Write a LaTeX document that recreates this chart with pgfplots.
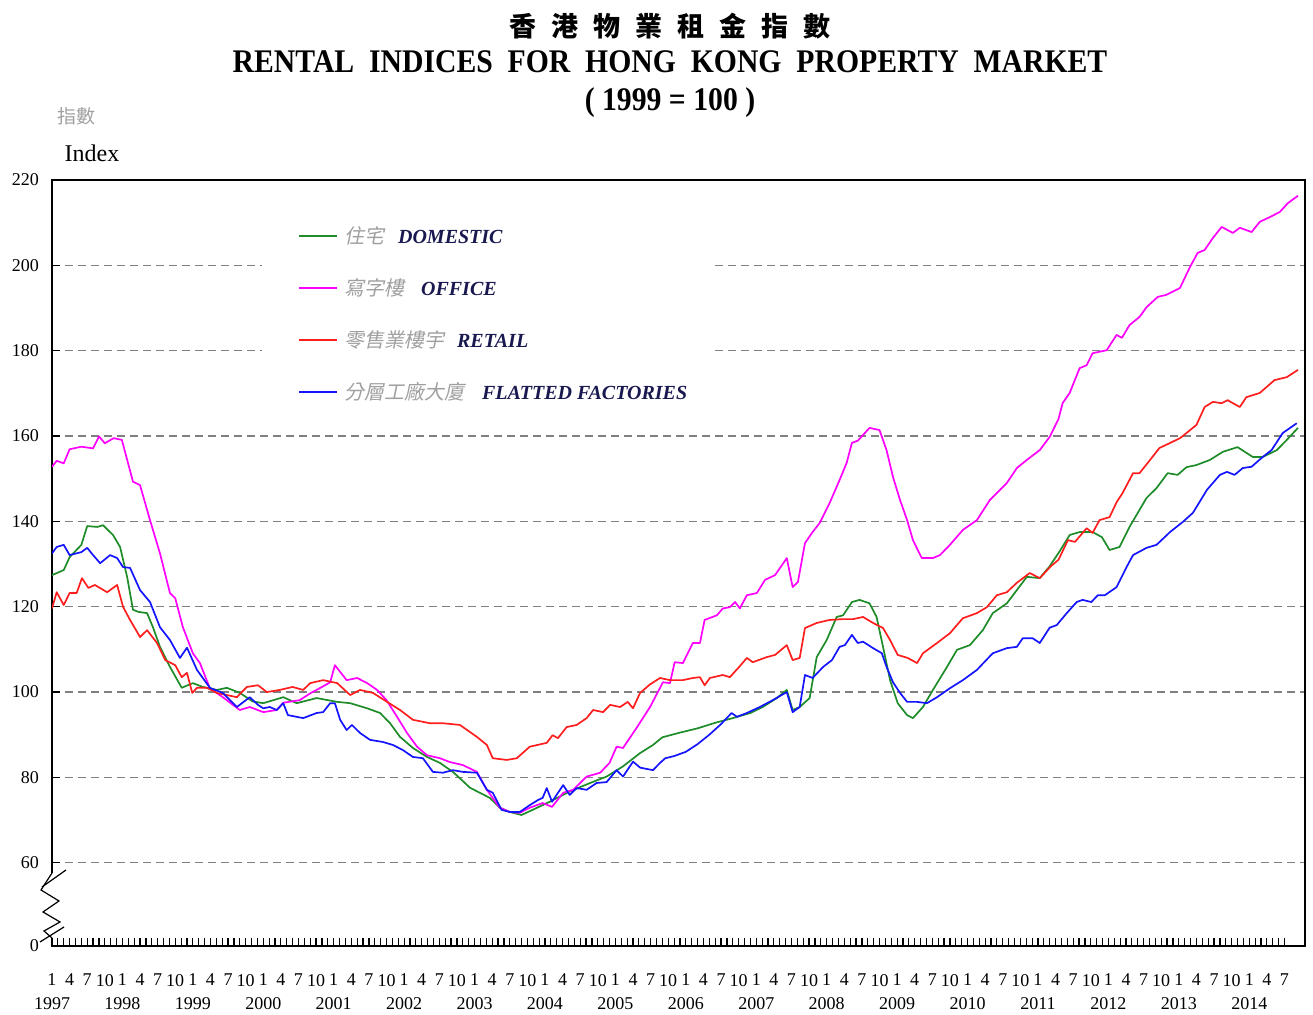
\documentclass[border=0pt]{standalone}
\usepackage{pgfplots}
\pgfplotsset{compat=1.18}
\usepackage{pgfplotstable}
\usepackage{fontspec}
\setmainfont{Liberation Serif}
\newfontfamily\titlefont{Liberation Serif}[FakeStretch=0.9]
\newfontfamily\cjk{Noto Sans CJK TC}
\newfontfamily\cjkit{Noto Sans CJK TC}[FakeSlant=0.2]
\definecolor{dgreen}{RGB}{30,140,40}
\definecolor{mag}{RGB}{255,0,255}
\definecolor{rred}{RGB}{255,30,30}
\definecolor{bblue}{RGB}{20,20,255}
\definecolor{navy}{RGB}{25,25,80}
\definecolor{cjkgray}{RGB}{160,160,160}

\pgfplotstableread{
m v
0 152.8
0.8 154.2
2 153.6
3 156.9
5 157.5
7 157.1
8 159.9
9 158.3
10.5 159.5
11.9 159.1
13.8 149.3
15 148.5
16.7 140.3
18.4 132.5
20.1 123.2
21 122
22.3 115.2
24 109.1
25.2 106.8
26.9 100.9
29.1 98.8
32 95.8
33.7 96.5
36 95.3
38.3 95.8
39.4 97.5
42.2 98.1
44 99.7
46 101.2
47.4 102.3
48.2 106.3
50.2 102.8
52 103.3
53.7 102.1
55.4 100.5
57 98.1
58.8 94.2
60.5 90.4
62.2 87.2
63.9 85.2
66.1 84.5
67.8 83.6
70 82.9
72.4 81.3
74.1 77.1
76.3 72.9
78 71.9
79.7 71.7
81.4 72.9
83.6 74
85.2 73.1
87.1 76.4
88.8 77.1
91.1 80.2
93.4 81.1
95 83.4
96.2 87.2
97.3 86.9
99.7 91.8
101.9 96.5
104.1 102.3
105.3 102.1
106.1 107
107.5 106.8
109.2 111.5
110.4 111.5
111.2 116.9
113.3 118
114.3 119.6
115.5 119.9
116.4 121.1
117.2 119.6
118.4 122.7
120.1 123.2
121.5 126.3
123.2 127.4
125.2 131.4
126.2 124.6
127.1 125.8
128.3 134.9
129.6 137.5
130.8 139.6
132.5 144.3
134.2 149.7
135.4 153.7
136.3 158.4
137.3 158.9
139.3 161.9
141 161.4
142.2 156.7
143.3 150.4
144.5 145
145.7 140.3
146.7 135.6
148.2 131.4
150.1 131.4
151.3 132.1
153 134.5
155.2 138
157.6 140.3
159.8 145
162.7 149
164.4 152.5
166.1 154.4
168.3 156.7
170 159.8
171.5 164
172.2 167.7
173.4 170.1
175.1 175.9
176.3 176.6
177.3 179.4
179.7 180.1
181.4 183.7
182.3 183
183.6 186
185.3 187.9
186.5 190.2
188.4 192.6
189.9 193.1
192.2 194.7
193.9 199.6
195.2 202.9
196.4 203.6
197.8 206.4
199.3 209
201.2 207.6
202.4 208.8
204.4 207.8
205.8 210.2
207.5 211.3
209.2 212.5
210.6 214.6
212.3 216.3
}\office

\pgfplotstableread{
m v
0 127.4
2 128.6
3 131.6
5 134.5
6 138.9
7.7 138.7
8.7 139.1
10.4 136.8
11.6 134
12.8 127
13.8 119.3
14.7 118.8
16.2 118.5
17.2 115.2
18.4 110.6
20.1 105.9
22.1 101
24 102.1
25.7 101.2
28.1 100.5
29.8 101
32 99.8
34.2 97.8
36 97.4
39.4 98.8
41.7 97.4
45.1 98.6
48.6 97.7
50.8 97.4
53.7 96.2
55.9 95.1
57.6 92.7
59.3 89.5
61.5 86.9
63.9 84.8
66.1 83.4
68.3 81.3
69.5 79.8
71.2 77.6
74.6 75.2
76.3 72.9
78 71.9
80 71.2
81.9 72.4
84.8 74.3
88.2 76.7
91.7 78.7
94.5 80.2
97.3 82.6
100.2 85.7
102.4 87.6
104 89.4
107 90.5
110 91.5
113 92.8
116 93.9
119 95.1
121.1 96.5
123.5 98.6
125.2 100.5
126.2 95.8
127.4 96.5
129.1 98.6
130.3 108.2
132 112.2
133.7 117.6
134.8 118
136.3 121.1
137.6 121.6
139.3 120.8
140.5 117.6
141.6 110.6
142.8 102.8
144.1 97.4
145.7 94.6
146.7 93.9
148.4 96.5
150.1 100.5
152.5 105.9
154.2 109.9
156.4 111
158.6 114.5
160.3 118.5
162.7 120.8
164.4 123.9
166.1 127
168.3 126.7
170 129.5
171.7 133
173.4 136.8
175.1 137.5
177.3 137.5
178.9 136.3
180.2 133.3
181.9 134
183.6 138.7
186.5 145.5
188.2 147.8
190.1 151.3
191.8 150.9
193.3 152.7
195 153.2
197.3 154.4
199.5 156.3
202 157.4
204.6 155.1
206.3 155.1
208.7 156.7
210.4 159.1
212.3 161.9
}\domestic

\pgfplotstableread{
m v
0 119.6
0.8 123.4
2 120.4
3 123.2
4.2 123.2
5.1 126.7
6.2 124.4
7.3 125.1
9.4 123.4
11.1 125.1
12.1 120
13.3 116.9
15 112.9
16.2 114.5
17.9 111.5
19.3 107.5
21 106.3
22.1 103.5
23 104.5
23.9 99.8
24.7 101
26.4 101
28.1 99.8
29.8 99.3
31.5 98.8
33.2 101.2
35.1 101.6
36.6 100
38.8 100.5
41 101.2
42.8 100.5
44 102.1
46.2 102.8
48.6 102.1
50.8 99.3
52.5 100.5
54.7 99.8
57.1 97.7
59.3 95.8
61.5 93.5
64.4 92.7
66.6 92.7
69.5 92.3
72.4 89.5
74.1 87.6
75.1 84.5
77.5 84.1
79.2 84.5
81.4 87.2
84.3 88.1
85.3 89.9
86.2 89.2
87.7 91.8
89.4 92.3
91.1 93.9
92.2 95.8
93.9 95.3
95.1 97
96.8 96.5
98.1 97.7
99 96.2
100.2 99.8
101.9 101.8
103.6 103.3
105.3 102.8
107.5 102.8
109.2 103.3
110.4 103.5
111.2 101.6
112.1 103.3
114.3 104
115.5 103.5
116.9 105.6
118.4 108
119.4 107
121.8 108.2
123.2 108.7
125.2 111
126.2 107.5
127.4 108
128.3 115
130.3 116.2
132.5 116.9
134.8 117.1
136.5 117.1
138.2 117.6
139.9 116.2
141.6 115
142.8 112.2
144.1 108.7
145.8 108
147.4 106.8
148.4 109.1
150.8 111.5
153 113.8
155.2 117.3
157.6 118.5
159.3 119.9
161 122.7
162.7 123.4
164.4 125.6
166.6 127.9
168.3 126.7
170.2 129.5
171.5 131
173.1 135.6
174.3 135.2
176.3 138.4
177.3 137.3
178.5 140.3
180.2 141
181.4 144.5
182.4 146.6
184.2 151.3
185.3 151.3
187.1 154.4
188.7 157.2
190.4 158.3
192.2 159.5
193.3 160.7
195 162.6
196.4 166.8
197.8 168
199.3 167.7
200.3 168.4
202.4 166.8
203.5 169.1
205.8 170.1
208.3 173.1
210.4 173.8
212.3 175.5
}\retail

\pgfplotstableread{
m v
0 132.5
0.8 134
2 134.5
3 132.1
5 132.8
6 133.8
7 132.1
8.2 130.2
9.9 132.1
11.1 131.4
12.1 129.3
13.3 129.1
15 123.9
16.7 121.1
18.4 115.2
20.1 112.2
21.8 108
23 110.4
24.7 105.2
26.9 101
29.1 99.8
31.5 96.5
33.7 98.8
35.1 97
36 96.2
37.1 96.5
38.3 95.8
39.4 97.4
40.2 94.6
42.8 93.9
45.1 95.1
46.2 95.3
47.4 97.4
48.2 97.4
49.1 93.5
50.2 91.1
51.1 92.3
52.5 90.4
54.2 88.8
56.4 88.3
58.1 87.6
59.8 86.4
61.5 84.8
63.2 84.5
64.9 81.3
66.6 81.1
68.3 81.7
70 81.3
72.4 81.1
74.1 77.1
75.1 76.4
76.6 72.4
78 71.9
79.7 71.9
81.4 73.5
82.8 74.7
83.6 75.2
84.3 77.5
85.2 74.3
87.1 78.2
88.2 75.9
89.4 77.5
91.1 77.1
92.8 78.7
94.5 78.9
96.2 81.7
97.3 80.2
99 83.7
100.2 82.3
102.4 81.7
103.6 83.4
104.5 84.5
106 85
108 86
110 87.8
112 90
114 92.5
115.8 95.1
116.7 94.2
118.4 95.1
120.6 96.5
122.8 98.1
125.2 100
126.2 95.3
127.4 96.5
128.3 104
129.6 103.3
131.4 105.9
132.9 107.5
134.2 110.6
135.1 111
136.3 113.4
137.3 111.5
138.2 111.8
139.9 110.3
141.4 109.1
142.2 105.9
143.3 102.3
144.5 99.8
145.7 97.7
147.4 97.7
149.1 97.4
150.8 98.8
153 100.9
155.2 102.8
157.6 105.2
160.3 109.1
162.7 110.3
164.4 110.6
165.4 112.6
167.1 112.6
168.3 111.5
170 115.1
171.2 115.7
172.9 118.5
174.6 121.1
175.6 121.6
177.1 121.1
178.2 122.7
179.4 122.7
181.4 124.6
183.1 129.3
184.2 132.1
186.5 133.8
188.2 134.5
190.5 137.5
192.7 139.9
194.4 142
196.8 147.4
199 150.9
200.2 151.6
201.5 150.9
202.9 152.5
204.4 152.8
206.3 155.1
207.8 156.7
209.7 160.7
212.1 163
}\factory

\begin{document}
\begin{tikzpicture}
\useasboundingbox (-26pt,-34.5pt) rectangle (630.5pt,473pt);
\begin{axis}[
  at={(0pt,0pt)}, anchor=south west,
  scale only axis, width=626.5pt, height=383pt,
  xmin=0, xmax=213.5, ymin=40.5, ymax=220,
  axis line style={line width=0.8pt},
  ytick={40.5,60,80,100,120,140,160,180,200,220},
  yticklabels={0,60,80,100,120,140,160,180,200,220},
  yticklabel style={font=\fontsize{9}{10}\selectfont, xshift=-3pt},
  ymajorgrids,
  grid style={gray, line width=0.6pt, dash pattern=on 4pt off 2.5pt},
  xtick={0,3,...,210},
  minor x tick num=2,
  xtick pos=left, ytick pos=left,
  tick align=inside,
  major tick length=4pt, minor tick length=4pt,
  tick style={black, line width=0.6pt},
  xticklabel={\pgfmathtruncatemacro\mm{mod(round(\tick),12)+1}\pgfmathtruncatemacro\yy{1997+floor(round(\tick)/12)}\xdef\YY{\yy}\ifnum\mm=1 \mm\\\YY\else\mm\fi},
  xticklabel style={align=center, font=\fontsize{9}{12}\selectfont, yshift=-10.5pt},
  legend style={at={(axis cs:41.9,188.2)}, anchor=west, draw=none, fill=none,
    inner sep=0pt, row sep=14pt, column sep=3pt,
    nodes={inner xsep=0pt, inner ysep=0pt, text height=9pt, text depth=3pt},
    font=\fontsize{10}{12}\selectfont},
  legend cell align=left,
  legend image code/.code={\draw[#1, line width=0.9pt] (0pt,0.8pt) -- (19pt,0.8pt);},
  every axis plot/.append style={line width=0.85pt, line join=round},
]
\fill[white] (axis cs:35.8,166) rectangle (axis cs:112.9,212);
\addplot[dgreen] table[x=m,y=v] {\domestic};
\addlegendentry{\textcolor{cjkgray}{\cjkit 住宅}\hspace{7pt}\textcolor{navy}{\bfseries\itshape DOMESTIC}}
\addplot[mag] table[x=m,y=v] {\office};
\addlegendentry{\textcolor{cjkgray}{\cjkit 寫字樓}\hspace{8.5pt}\textcolor{navy}{\bfseries\itshape OFFICE}}
\addplot[rred] table[x=m,y=v] {\retail};
\addlegendentry{\textcolor{cjkgray}{\cjkit 零售業樓宇}\hspace{6.5pt}\textcolor{navy}{\bfseries\itshape RETAIL}}
\addplot[bblue] table[x=m,y=v] {\factory};
\addlegendentry{\textcolor{cjkgray}{\cjkit 分層工廠大廈}\hspace{9pt}\textcolor{navy}{\bfseries\itshape FLATTED FACTORIES}}
\end{axis}
% axis break on the y axis
\fill[white] (-1.5pt,4pt) rectangle (1.5pt,36.5pt);
\draw[line width=0.6pt] (0pt,36.5pt) -- (-5.5pt,28pt) -- (3.5pt,22.5pt) -- (-4.5pt,17pt) -- (4pt,12pt) -- (-4pt,7.5pt) -- (0pt,4pt);
\draw[line width=0.6pt] (-5pt,29.5pt) -- (7pt,38pt);
\draw[line width=0.6pt] (-6pt,2pt) -- (6pt,9.5pt);
% titles
\node[font=\cjk\bfseries\fontsize{13.5}{14}\selectfont] at (309pt,460pt)
  {香\hspace{7.5pt}港\hspace{7.5pt}物\hspace{7.5pt}業\hspace{7.5pt}租\hspace{7.5pt}金\hspace{7.5pt}指\hspace{7.5pt}數};
\node[font=\titlefont\bfseries\fontsize{16.5}{17}\selectfont] at (309pt,442pt)
  {RENTAL\ \ INDICES\ \ FOR\ \ HONG\ \ KONG\ \ PROPERTY\ \ MARKET};
\node[font=\titlefont\bfseries\fontsize{16.5}{17}\selectfont] at (309pt,421.5pt) {( 1999 = 100 )};
\node[font=\cjk\fontsize{9.5}{10}\selectfont, text=cjkgray] at (12pt,415pt) {指數};
\node[font=\fontsize{12}{13}\selectfont] at (20pt,396.5pt) {Index};
\end{tikzpicture}
\end{document}
